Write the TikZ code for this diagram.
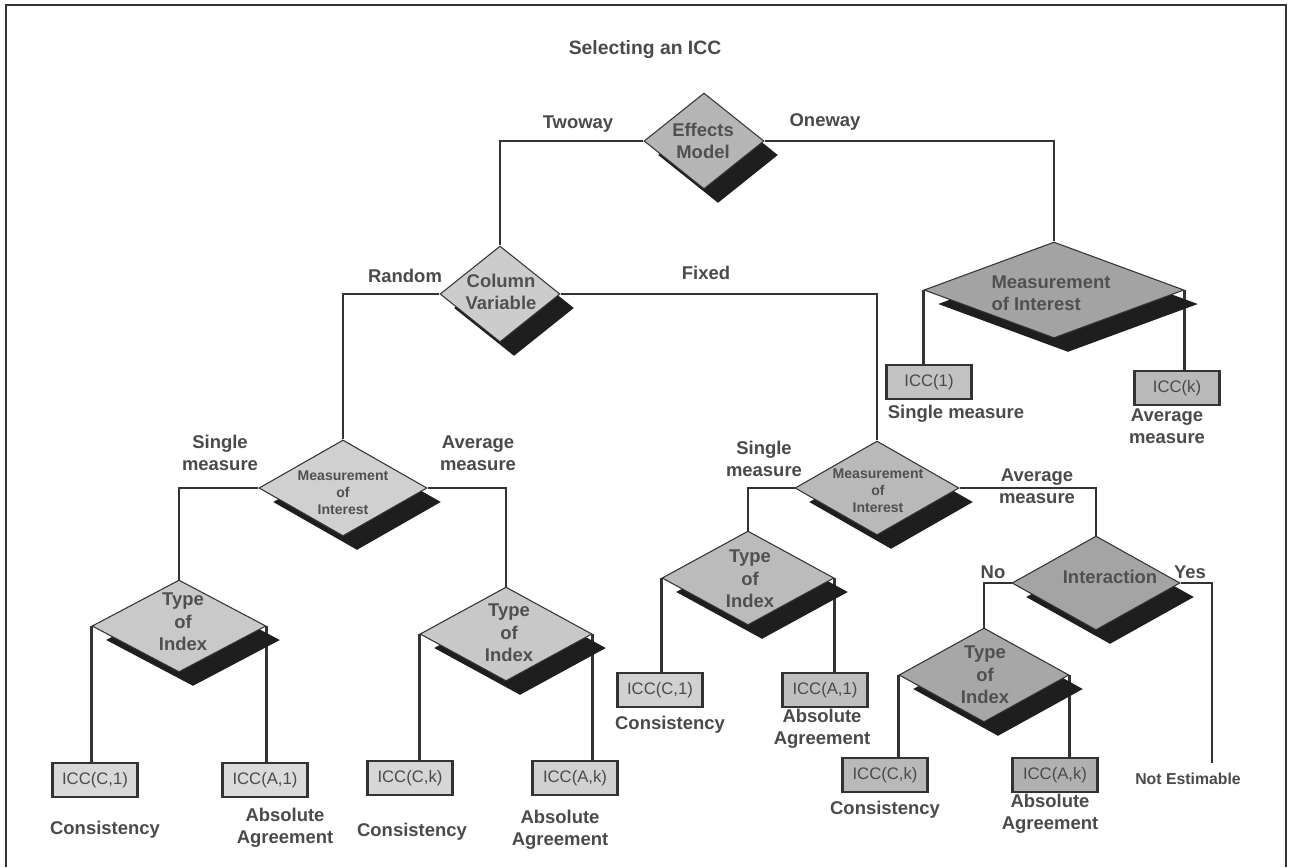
\documentclass[tikz,border=0pt]{standalone}
\usepackage{fontspec}
\setmainfont{Liberation Sans}
\usetikzlibrary{shapes.geometric,shadows,backgrounds}

\definecolor{ink}{HTML}{333333}
\definecolor{txt}{HTML}{4A4A4A}
\definecolor{dtxt}{HTML}{505050}
\definecolor{shade}{HTML}{1E1E1E}

\tikzset{
  dia/.style={diamond, draw=ink, line width=0.6pt, inner sep=0pt,
    drop shadow={shadow xshift=0.28cm, shadow yshift=-0.28cm, fill=shade, opacity=1}},
  dtext/.style={font=\bfseries\fontsize{10.5}{12.6}\selectfont, text=dtxt, align=center, inner sep=0pt},
  dsmall/.style={font=\bfseries\fontsize{8}{9.6}\selectfont, text=dtxt, align=center, inner sep=0pt},
  icc/.style={rectangle, draw=ink, line width=1.4pt, minimum width=1.7cm, minimum height=0.68cm,
    inner sep=0pt, font=\fontsize{9.5}{11}\selectfont, text=txt},
  lbl/.style={font=\bfseries\fontsize{10.5}{12.6}\selectfont, text=txt, align=center, inner sep=0pt},
  conn/.style={draw=ink, line width=1.3pt},
}

\begin{document}
\begin{tikzpicture}[x=0.02cm, y=-0.02cm]
\useasboundingbox (0,0) rectangle (1290,867);

% outer frame
\draw[ink, line width=1.2pt] (6,867) -- (6,5) -- (1286,5) -- (1286,867);

% title
\node[lbl, font=\bfseries\fontsize{11}{13}\selectfont] (title) at (645,50) {Selecting an ICC};

% decision diamonds
\node[dia, fill=gray!58,  minimum width=2.4cm,  minimum height=1.92cm] (em) at (704,141) {};
\node[dia, fill=gray!40,  minimum width=2.4cm,  minimum height=1.92cm] (cv) at (500,294) {};
\node[dia, fill=gray!72,  minimum width=5.2cm,  minimum height=1.92cm] (om) at (1054,290) {};
\node[dia, fill=gray!37,  minimum width=3.36cm, minimum height=1.92cm] (lm) at (343,488) {};
\node[dia, fill=gray!55,  minimum width=3.28cm, minimum height=1.88cm] (rm) at (877,488) {};
\node[dia, fill=gray!42,  minimum width=3.48cm, minimum height=1.84cm] (t1) at (179,626) {};
\node[dia, fill=gray!43,  minimum width=3.44cm, minimum height=1.88cm] (t2) at (506,634) {};
\node[dia, fill=gray!53,  minimum width=3.44cm, minimum height=1.88cm] (t3) at (748,578) {};
\node[dia, fill=gray!71,  minimum width=3.36cm, minimum height=1.88cm] (ia) at (1096,583) {};
\node[dia, fill=gray!69,  minimum width=3.4cm,  minimum height=1.88cm] (t4) at (984,675) {};

% texts inside the diamonds
\node[dtext] (em-t) at (703,141) {Effects\\Model};
\node[dtext] (cv-t) at (501,292) {Column\\Variable};
\node[dtext, align=left] (om-t) at (1051,293) {Measurement\\of Interest};
\node[dsmall] (lm-t) at (343,493) {Measurement\\of\\Interest};
\node[dsmall] (rm-t) at (878,491) {Measurement\\of\\Interest};
\node[dtext, font=\bfseries\fontsize{10.5}{12.8}\selectfont] (t1-t) at (183,622) {Type\\of\\Index};
\node[dtext, font=\bfseries\fontsize{10.5}{12.8}\selectfont] (t2-t) at (509,633) {Type\\of\\Index};
\node[dtext, font=\bfseries\fontsize{10.5}{12.8}\selectfont] (t3-t) at (750,579) {Type\\of\\Index};
\node[dtext, font=\bfseries\fontsize{10.5}{12.8}\selectfont] (t4-t) at (985,675) {Type\\of\\Index};
\node[dtext] (ia-t) at (1110,577) {Interaction};

% result boxes
\node[icc, fill=gray!30] (b1)  at (95,780)   {ICC(C,1)};
\node[icc, fill=gray!28] (b2)  at (265,780)  {ICC(A,1)};
\node[icc, fill=gray!32] (b3)  at (410,778)  {ICC(C,k)};
\node[icc, fill=gray!36] (b4)  at (575,778)  {ICC(A,k)};
\node[icc, fill=gray!36] (b5)  at (660,690)  {ICC(C,1)};
\node[icc, fill=gray!50] (b6)  at (825,690)  {ICC(A,1)};
\node[icc, fill=gray!48] (b7)  at (929,382)  {ICC(1)};
\node[icc, fill=gray!55] (b8)  at (1177,388) {ICC(k)};
\node[icc, fill=gray!55] (b9)  at (885,775)  {ICC(C,k)};
\node[icc, fill=gray!62] (b10) at (1055,775) {ICC(A,k)};

\coordinate (yesend) at (1212,763);

% branch labels
\node[lbl] (l-two)  at (578,124) {Twoway};
\node[lbl] (l-one)  at (825,122) {Oneway};
\node[lbl] (l-rnd)  at (405,276) {Random};
\node[lbl] (l-fix)  at (706,273) {Fixed};
\node[lbl] (l-sm1)  at (220,453) {Single\\measure};
\node[lbl] (l-am1)  at (478,453) {Average\\measure};
\node[lbl] (l-sm2)  at (764,459) {Single\\measure};
\node[lbl] (l-am2)  at (1037,486) {Average\\measure};
\node[lbl] (l-sm3)  at (956,414) {Single measure};
\node[lbl] (l-am3)  at (1167,426) {Average\\measure};
\node[lbl] (l-no)   at (993,572) {No};
\node[lbl] (l-yes)  at (1190,572) {Yes};

% outcome labels
\node[lbl] (c1) at (105,830)  {Consistency};
\node[lbl] (a1) at (285,828)  {Absolute\\Agreement};
\node[lbl] (c2) at (412,832)  {Consistency};
\node[lbl] (a2) at (560,830)  {Absolute\\Agreement};
\node[lbl] (c3) at (670,725)  {Consistency};
\node[lbl] (a3) at (822,729)  {Absolute\\Agreement};
\node[lbl] (c4) at (885,810)  {Consistency};
\node[lbl] (a4) at (1050,814) {Absolute\\Agreement};
\node[lbl, font=\bfseries\fontsize{9}{11}\selectfont] (ne) at (1188,779) {Not Estimable};

% connectors, kept behind the diamonds
\begin{scope}[on background layer]
  \fill[white] (0,0) rectangle (1290,867);
  \draw[conn] (em.west) -| (cv.north);
  \draw[conn] (em.east) -| (om.north);
  \draw[conn] (cv.west) -| (lm.north);
  \draw[conn] (cv.east) -| (rm.north);
  \draw[conn] (lm.west) -| (t1.north);
  \draw[conn] (lm.east) -| (t2.north);
  \draw[conn] (rm.west) -| (t3.north);
  \draw[conn] (rm.east) -| (ia.north);
  \draw[conn] (ia.west) -| (t4.north);
  \draw[conn] (ia.east) -| (yesend);
  \draw[conn] (om.west) -- (om.west |- b7.north);
  \draw[conn] (om.east) -- (om.east |- b8.north);
  \draw[conn] (t1.west) -- (t1.west |- b1.north);
  \draw[conn] (t1.east) -- (t1.east |- b2.north);
  \draw[conn] (t2.west) -- (t2.west |- b3.north);
  \draw[conn] (t2.east) -- (t2.east |- b4.north);
  \draw[conn] (t3.west) -- (t3.west |- b5.north);
  \draw[conn] (t3.east) -- (t3.east |- b6.north);
  \draw[conn] (t4.west) -- (t4.west |- b9.north);
  \draw[conn] (t4.east) -- (t4.east |- b10.north);
\end{scope}
\end{tikzpicture}
\end{document}
